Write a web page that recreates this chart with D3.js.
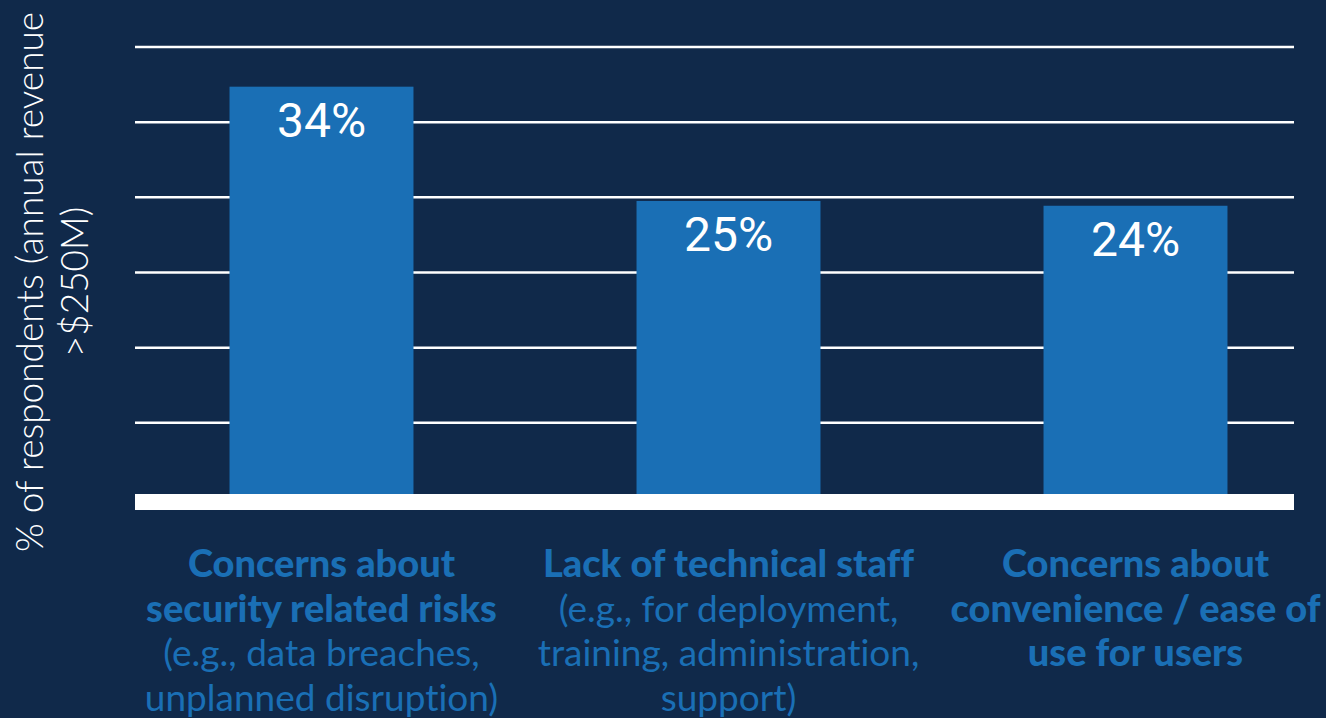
<!DOCTYPE html>
<html>
<head>
<meta charset="utf-8">
<script src="https://cdn.jsdelivr.net/npm/d3@7"></script>
<style>
  html, body { margin: 0; padding: 0; background: #10294a; }
  svg { display: block; }
  text { font-variant-ligatures: none; }
</style>
</head>
<body>
<div class="canvas"></div>
<script>
// 데이터
const categories = ["security", "staff", "convenience"];
const values = [34.2, 24.7, 24.3];            // % of respondents
const gridTicks = [6.25, 12.5, 18.75, 25, 31.25, 37.5];
const boldLines = [
  ["Concerns about", "security related risks"],
  ["Lack of technical staff"],
  ["Concerns about", "convenience / ease of", "use for users"]
];
const normalLines = [
  ["(e.g., data breaches,", "unplanned disruption)"],
  ["(e.g., for deployment,", "training, administration,", "support)"],
  []
];
const yTitle = ["% of respondents (annual revenue", ">$250M)"];

const svgWidth = 1326, svgHeight = 718;
const blue = "#1a6fb5";

const svg = d3.select(".canvas").append("svg")
  .attr("width", svgWidth)
  .attr("height", svgHeight);

svg.append("rect")
  .attr("width", svgWidth)
  .attr("height", svgHeight)
  .attr("fill", "#10294a");

const xScale = d3.scaleBand()
  .domain(categories)
  .range([118, 1339])
  .paddingInner(0.548)
  .paddingOuter(0.274);

const yScale = d3.scaleLinear()
  .domain([0, 37.5])
  .range([498, 47]);

const gridLeft = 135, gridRight = 1294;

// 격자선
svg.append("g")
  .selectAll("line")
  .data(gridTicks)
  .join("line")
  .attr("x1", gridLeft)
  .attr("x2", gridRight)
  .attr("y1", d => yScale(d))
  .attr("y2", d => yScale(d))
  .attr("stroke", "#fff")
  .attr("stroke-width", 2.5);

// 막대
svg.append("g")
  .selectAll("rect")
  .data(values)
  .join("rect")
  .attr("x", (d, i) => xScale(categories[i]))
  .attr("y", d => yScale(d))
  .attr("width", xScale.bandwidth())
  .attr("height", d => yScale(0) - yScale(d))
  .attr("fill", blue);

// 기준선 (두꺼운 흰색 띠)
svg.append("rect")
  .attr("x", gridLeft)
  .attr("y", yScale(0) - 4)
  .attr("width", gridRight - gridLeft)
  .attr("height", 16)
  .attr("fill", "#fff");

// 값 라벨
svg.append("g")
  .selectAll("text")
  .data(values)
  .join("text")
  .attr("x", (d, i) => xScale(categories[i]) + xScale.bandwidth() / 2)
  .attr("y", d => yScale(d) + 50)
  .attr("text-anchor", "middle")
  .attr("fill", "#fff")
  .style("font-family", "Roboto, sans-serif")
  .style("font-size", "48px")
  .text(d => Math.round(d) + "%");

// 범주 라벨
const lineH = 44.5;
categories.forEach((c, i) => {
  const cx = xScale(c) + xScale.bandwidth() / 2;
  const t = svg.append("text")
    .attr("text-anchor", "middle")
    .attr("fill", blue)
    .style("font-family", "Lato, sans-serif");
  const lines = boldLines[i].map(s => ({ s, bold: true }))
    .concat(normalLines[i].map(s => ({ s, bold: false })));
  lines.forEach((l, j) => {
    t.append("tspan")
      .attr("x", cx)
      .attr("y", 577 + j * lineH)
      .style("font-weight", l.bold ? 900 : 400)
      .style("font-size", l.bold ? "38px" : "37px")
      .text(l.s);
  });
});

// y축 제목
svg.append("g")
  .attr("transform", "translate(0, 282) rotate(-90)")
  .selectAll("text")
  .data(yTitle)
  .join("text")
  .attr("x", 0)
  .attr("y", (d, i) => 43 + i * 45)
  .attr("text-anchor", "middle")
  .attr("fill", "#fff")
  .style("font-family", "Lato, sans-serif")
  .style("font-weight", 300)
  .style("font-size", "37px")
  .text(d => d);
</script>
</body>
</html>
